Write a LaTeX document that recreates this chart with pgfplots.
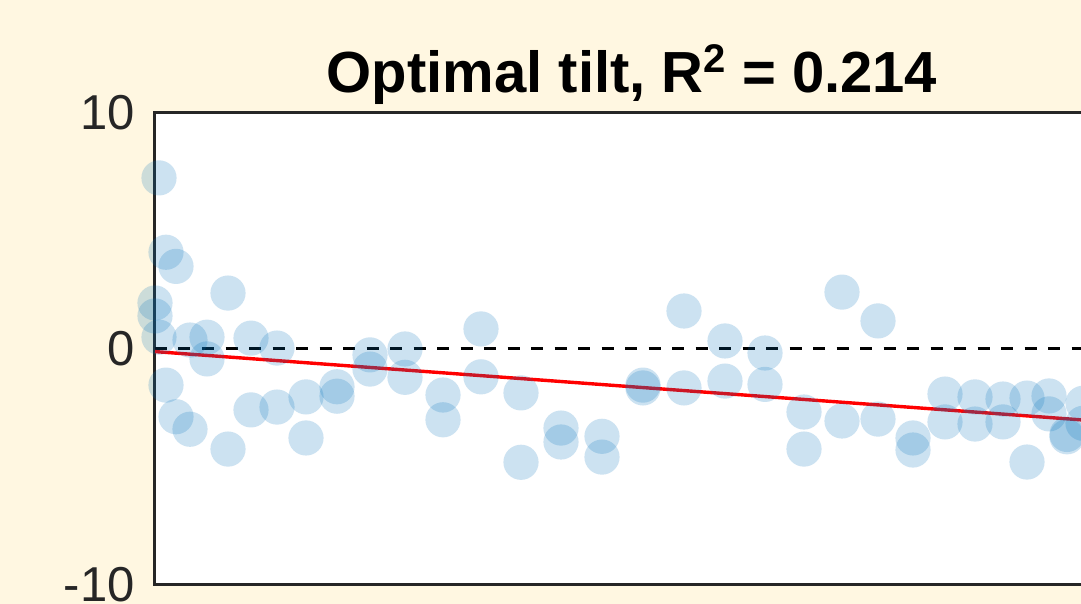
\documentclass[border=0pt]{standalone}
\usepackage{fontspec}
\setmainfont{Liberation Sans}
\usepackage{pgfplots}
\pgfplotsset{compat=1.18}
\definecolor{cream}{RGB}{255,247,225}
\definecolor{axgray}{RGB}{38,38,38}
\definecolor{mblue}{RGB}{0,114,189}
\begin{document}
\begin{tikzpicture}
\fill[cream] (-77.5pt,-9.5pt) rectangle (463pt,292.5pt);
\begin{scope}
\clip (-77.5pt,-9.5pt) rectangle (463pt,292.5pt);
\begin{axis}[
  at={(0pt,0pt)}, anchor=south west,
  scale only axis, width=477pt, height=236pt,
  xmin=0, xmax=954, ymin=-10, ymax=10,
  xtick=\empty,
  ytick={-10,0,10}, yticklabels={-10,0,10},
  major tick length=0pt,
  axis line style={color=axgray, line width=1.5pt},
  axis background/.style={fill=white},
  yticklabel style={font=\fontsize{24.5}{24.5}\selectfont, text=axgray, inner sep=0pt, anchor=east, xshift=-10pt},
  title={Optimal tilt, R\raisebox{0.36em}{\fontsize{20}{20}\selectfont 2} = 0.214},
  title style={font=\fontsize{29}{29}\selectfont\bfseries, at={(0.5,1)}, anchor=base, yshift=4pt, inner sep=0pt},
  clip=false,
]
\addplot[only marks, draw=none, mark=*, mark size=8.8pt, mark options={draw=none, draw opacity=0, fill=mblue, fill opacity=0.2}] coordinates {
(0,1.95) (0,1.4)
(4,7.25) (4,0.5)
(11,4.1) (11,-1.53)
(21,3.5) (21,-2.87)
(35,0.38) (35,-3.4)
(52,0.5) (52,-0.42)
(73,2.37) (73,-4.24)
(96,0.46) (96,-2.58)
(122,0.04) (122,-2.46)
(151,-2.03) (151,-3.77)
(182,-1.6) (182,-2.0)
(215,-0.25) (215,-0.85)
(250,0) (250,-1.2)
(288,-1.95) (288,-3.0)
(326,0.85) (326,-1.18)
(366,-1.86) (366,-4.8)
(406,-3.35) (406,-3.94)
(447,-3.7) (447,-4.58)
(488,-1.53) (488,-1.65)
(529,1.61) (529,-1.65)
(570,0.34) (570,-1.36)
(610,-0.17) (610,-1.5)
(649,-2.67) (649,-4.24)
(687,2.41) (687,-3.05)
(723,1.19) (723,-2.97)
(758,-3.77) (758,-4.28)
(790,-1.91) (790,-3.09)
(820,-2.03) (820,-3.18)
(848,-2.12) (848,-3.09)
(872,-2.08) (872,-4.79)
(894,-1.99) (894,-2.75)
(912,-3.62) (912,-3.72)
(928,-2.3) (928,-3.15)
};
\addplot[black, line width=1.5pt, dash pattern=on 6pt off 5.75pt] coordinates {(0,0) (954,0)};
\addplot[red, line width=1.7pt] coordinates {(0,-0.11) (954,-3.09)};
\end{axis}
\end{scope}
\pgfresetboundingbox
\useasboundingbox (-77.5pt,-9.5pt) rectangle (463pt,292.5pt);
\end{tikzpicture}
\end{document}
